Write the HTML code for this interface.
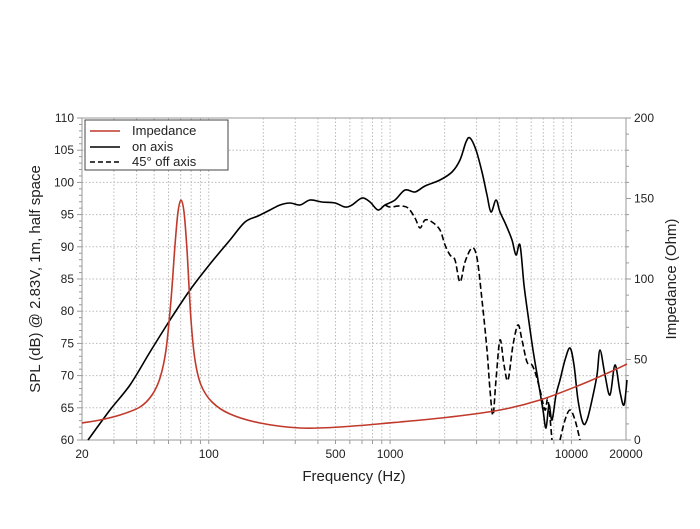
<!DOCTYPE html>
<html><head><meta charset="utf-8"><style>
body{margin:0;background:#fff;width:700px;height:524px;overflow:hidden}
text{font-family:"Liberation Sans",sans-serif;fill:#222}
</style></head><body>
<svg id="s" width="700" height="524" xmlns="http://www.w3.org/2000/svg">
<g id="grid"></g>
<rect x="82" y="118" width="544" height="322" fill="none" stroke="#999" stroke-width="1"/>
<g id="ticks"></g>
<g id="curves"></g>
<rect x="85" y="120" width="143" height="50" fill="#fff" stroke="#444" stroke-width="1"/>
<line x1="90" y1="131" x2="120" y2="131" stroke="#c0392b" stroke-width="1.5"/>
<line x1="90" y1="147" x2="120" y2="147" stroke="#000" stroke-width="1.5"/>
<line x1="90" y1="162" x2="120" y2="162" stroke="#000" stroke-width="1.5" stroke-dasharray="5,3"/>
<text x="132" y="135" font-size="13">Impedance</text>
<text x="132" y="151" font-size="13">on axis</text>
<text x="132" y="166" font-size="13">45° off axis</text>
<text x="40" y="279" font-size="15" text-anchor="middle" transform="rotate(-90 40 279)">SPL (dB) @ 2.83V, 1m, half space</text>
<text x="676" y="279" font-size="15" text-anchor="middle" transform="rotate(-90 676 279)">Impedance (Ohm)</text>
<text x="354" y="481" font-size="15" text-anchor="middle">Frequency (Hz)</text>
</svg>
<script>
var ns="http://www.w3.org/2000/svg",g=document.getElementById("grid"),t=document.getElementById("ticks"),c=document.getElementById("curves");
function el(p,tag,a,txt){var e=document.createElementNS(ns,tag);for(var k in a)e.setAttribute(k,a[k]);if(txt)e.textContent=txt;p.appendChild(e);}
function fx(f){return 82+181.33*Math.log10(f/20);}
var fs=[];for(var d=10;d<=10000;d*=10)for(var m=1;m<10;m++){var f=d*m;if(f>20&&f<20000)fs.push(f);}
fs.forEach(function(f){var x=fx(f);el(g,"line",{x1:x,y1:118,x2:x,y2:440,stroke:"#bbb","stroke-width":1,"stroke-dasharray":"1.5,2"});el(t,"line",{x1:x,y1:440,x2:x,y2:444,stroke:"#999"});});
[[20,"20"],[100,"100"],[500,"500"],[1000,"1000"],[10000,"10000"],[20000,"20000"]].forEach(function(a){el(t,"text",{x:fx(a[0]),y:458,"font-size":12,"text-anchor":"middle"},a[1]);});
for(var v=60;v<=110;v++){var y=440-(v-60)*6.44;el(t,"line",{x1:v%5?79:77,y1:y,x2:82,y2:y,stroke:"#999"});if(v%5==0){if(v>60&&v<110)el(g,"line",{x1:82,y1:y,x2:626,y2:y,stroke:"#bbb","stroke-dasharray":"1.5,2"});el(t,"text",{x:74,y:y+4,"font-size":12,"text-anchor":"end"},""+v);}}
for(var o=0;o<=200;o+=10){var y=440-o*1.61;el(t,"line",{x1:626,y1:y,x2:o%50?629:631,y2:y,stroke:"#999"});if(o%50==0)el(t,"text",{x:634,y:y+4,"font-size":12},""+o);}
function smooth(s){var p=s.trim().split(/\s+/).map(function(q){return q.split(",").map(Number);});var d="M"+p[0];for(var i=0;i<p.length-1;i++){var p0=p[i-1]||p[i],p1=p[i],p2=p[i+1],p3=p[i+2]||p2;var c1=[p1[0]+(p2[0]-p0[0])/6,p1[1]+(p2[1]-p0[1])/6],c2=[p2[0]-(p3[0]-p1[0])/6,p2[1]-(p3[1]-p1[1])/6];d+="C"+c1+" "+c2+" "+p2;}return d;}
function curve(pts,col,dash){var a={d:smooth(pts),fill:"none",stroke:col,"stroke-width":1.6,"stroke-linejoin":"round"};if(dash)a["stroke-dasharray"]="6,3";el(c,"path",a);}
curve("385,205 390,207 400,206 408,208 415,218 420,228 425,220 432,222 440,230 445,245 450,255 455,260 460,282 465,262 472,248 477,258 482,300 487,350 490,390 493,415 496,380 500,340 504,365 508,380 513,345 518,325 522,340 527,362 532,365 536,375 540,390 545,410 548,400 552,440","#000",1);
curve("560,440 565,420 570,410 575,420 580,440","#000",1);
curve("88,440 110,410 130,385 150,352 170,320 190,290 210,264 230,240 245,222 258,216 270,210 280,205 290,203 300,205 310,200 322,202 335,203 345,207 352,205 362,198 370,202 378,210 385,205 395,200 405,190 415,192 425,186 440,180 452,172 460,160 466,142 470,138 476,150 482,172 487,195 491,212 496,200 500,212 506,225 512,240 516,255 520,245 524,285 528,315 533,350 538,380 543,410 546,428 549,405 552,420 556,395 560,380 565,360 570,348 574,365 578,400 583,423 587,420 592,400 597,375 600,350 605,375 610,395 615,365 620,392 624,405 627,380","#000",0);
curve("82,423 100,420 120,415 140,407 152,395 160,378 166,350 171,300 175,245 178,212 181,200 184,212 187,250 191,320 195,360 201,385 212,402 230,414 260,423 300,428 340,427 400,422 450,417 500,410 540,400 580,385 610,372 627,364","#c0392b",0);
</script>
</body></html>
